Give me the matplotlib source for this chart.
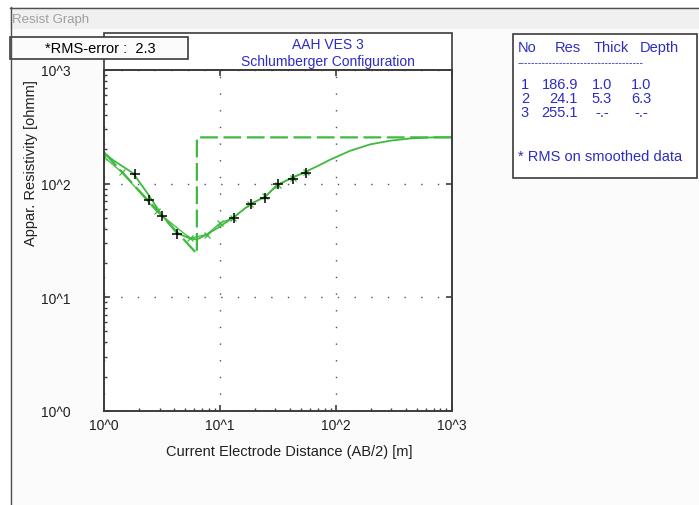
"""Resist Graph - VES sounding curve (Schlumberger), screenshot recreation."""
import matplotlib
matplotlib.use("Agg")
import matplotlib.pyplot as plt
from matplotlib.patches import Rectangle
from matplotlib.ticker import NullFormatter, LogLocator

plt.rcParams["font.family"] = ["Liberation Sans", "DejaVu Sans"]

# observed field data (AB/2 [m], apparent resistivity [ohmm])
ab2_obs = [1.83, 2.45, 3.13, 4.25, 13.1, 18.4, 24.3, 31.7, 42.4, 55.4]
rho_obs = [120.7, 71.2, 51.3, 35.7, 49.6, 65.7, 75.1, 100.0, 110.5, 124.0]

# smoothed data curve
ab2_smooth = [1.0, 1.41, 2.84, 5.5, 7.67, 10.0, 13.0, 18.2, 24.5, 31.7, 42.4, 55.4]
rho_smooth = [170.7, 126.4, 56.8, 33.0, 35.6, 44.9, 50.0, 65.7, 77.0, 97.0, 113.0, 126.0]

# calculated curve of the fitted model
ab2_calc = [1.0, 1.2, 1.78, 2.4, 3.13, 4.22, 5.5, 6.3, 7.67, 10.0, 13.0, 18.2, 24.5,
            30.9, 43.0, 54.3, 70.8, 89.3, 133.0, 198.0, 295.0, 440.0, 655.0, 1000.0]
rho_calc = [185.0, 160.0, 123.0, 80.0, 53.0, 36.7, 32.8, 32.2, 35.6, 42.0, 50.3, 65.7, 76.6,
            96.9, 114.4, 126.4, 143.9, 162.3, 194.5, 221.4, 238.5, 249.7, 254.7, 256.0]

# layer model
layer_no = [1, 2, 3]
layer_res = [186.9, 24.1, 255.1]
layer_thick = ["1.0", "5.3", "-.-"]
layer_depth = ["1.0", "6.3", "-.-"]
depths = [1.0, 6.3]
rms_error = 2.3

x_ticks = [1, 10, 100, 1000]
x_labels = ["10^0", "10^1", "10^2", "10^3"]
y_ticks = [1, 10, 100, 1000]
y_labels = ["10^0", "10^1", "10^2", "10^3"]

W, H = 699, 506
GREEN = "#3fba3f"
BLUE = "#2c2cc4"
FRAME = "#3c3c3c"
FS = 10.5

fig = plt.figure(figsize=(W / 100, H / 100), dpi=100)

# window decoration, boxes and texts in pixel coordinates
bg = fig.add_axes([0, 0, 1, 1])
bg.set_xlim(0, W)
bg.set_ylim(H, 0)
bg.axis("off")
bg.add_patch(Rectangle((10, 8), W - 10, 22, fc="#f0f0f0", ec="none"))
bg.add_patch(Rectangle((10, 30), W - 10, H - 30, fc="#fbfbfb", ec="none"))
bg.plot([10, W], [8.5, 8.5], color="#505050", lw=1)
bg.plot([10.5, 10.5], [8, H], color="#505050", lw=1)
bg.text(12, 19.5, "Resist Graph", color="#a0a0a0", fontsize=9.5, va="center")

bg.add_patch(Rectangle((104.3, 34), 347.4, 37, fc="white", ec=FRAME, lw=1.2))
bg.text(328, 45, "AAH VES 3", color=BLUE, fontsize=10, ha="center", va="center")
bg.text(328, 62, "Schlumberger Configuration", color=BLUE, fontsize=10, ha="center", va="center")

bg.add_patch(Rectangle((10, 38), 178, 22, fc="#fbfbfb", ec=FRAME, lw=1.2))
bg.text(100, 49, f"*RMS-error :  {rms_error}", color="black", fontsize=FS,
        ha="center", va="center")

bg.add_patch(Rectangle((513, 35), 184, 144, fc="white", ec=FRAME, lw=1.2))
for txt, xp in zip(["No", "Res", "Thick", "Depth"], [518, 555, 594, 640]):
    bg.text(xp, 48, txt, color=BLUE, fontsize=FS, va="center")
bg.text(518, 63, "-" * 36, color=BLUE, fontsize=7.5, va="center")
for i, (n, r, t, d) in enumerate(zip(layer_no, layer_res, layer_thick, layer_depth)):
    yp = 85 + 14 * i
    bg.text(525, yp, str(n), color=BLUE, fontsize=FS, ha="center", va="center")
    bg.text(578, yp, f"{r:.1f}", color=BLUE, fontsize=FS, ha="right", va="center")
    bg.text(602, yp, t, color=BLUE, fontsize=FS, ha="center", va="center")
    bg.text(641, yp, d, color=BLUE, fontsize=FS, ha="center", va="center")
bg.text(518, 157, "* RMS on smoothed data", color=BLUE, fontsize=FS, va="center")

bg.text(289.5, 452, "Current Electrode Distance (AB/2) [m]", fontsize=FS,
        ha="center", va="center", color="#202020")
bg.text(31, 163, "Appar. Resistivity [ohmm]", fontsize=FS, rotation=90,
        ha="center", va="center", color="#202020")

# the graph itself
left, right, top, bottom = 104.3, 451.7, 71, 411.7
ax = fig.add_axes([left / W, 1 - bottom / H, (right - left) / W, (bottom - top) / H])
ax.set_facecolor("white")
ax.set_xscale("log")
ax.set_yscale("log")
ax.set_xlim(1, 1000)
ax.set_ylim(1, 1000)

ax.grid(which="major", linestyle=(0, (1, 11)), color="#505050", lw=1)

model_x = [depths[0], depths[1], depths[1], 1000]
model_y = [layer_res[0], layer_res[1], layer_res[2], layer_res[2]]
ax.plot(model_x, model_y, color=GREEN, lw=1.6, dashes=(8, 2.5), clip_on=False)
ax.plot(ab2_smooth, rho_smooth, color=GREEN, lw=0.9, marker="x", ms=4, mew=0.9)
ax.plot(ab2_calc, rho_calc, color=GREEN, lw=1.3)
ax.plot(ab2_obs, rho_obs, ls="none", marker="+", ms=7, mew=1.1, color="black")

ax.set_xticks(x_ticks, labels=x_labels)
ax.set_yticks(y_ticks, labels=y_labels)
ax.xaxis.set_minor_locator(LogLocator(base=10, subs=range(2, 10)))
ax.yaxis.set_minor_locator(LogLocator(base=10, subs=range(2, 10)))
ax.xaxis.set_minor_formatter(NullFormatter())
ax.yaxis.set_minor_formatter(NullFormatter())
ax.tick_params(which="major", direction="in", length=4.5, width=1.2, color=FRAME,
               top=True, right=True, labelsize=10, labelcolor="#202020")
ax.tick_params(which="minor", direction="in", length=2.2, width=1, color=FRAME,
               top=False, right=False)
ax.tick_params(axis="x", which="major", pad=5)
ax.tick_params(axis="y", which="major", pad=24)
for s in ax.spines.values():
    s.set_color(FRAME)
    s.set_linewidth(1.4)

fig.savefig("out.png", dpi=100)
